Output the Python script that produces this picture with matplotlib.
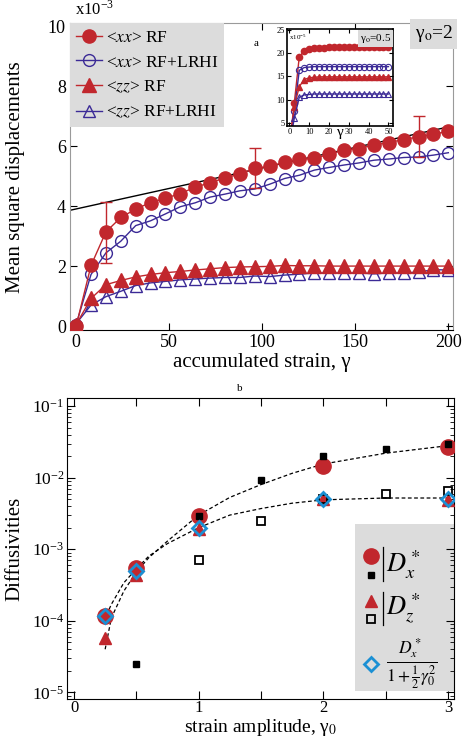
import matplotlib
matplotlib.use("Agg")
import matplotlib.pyplot as plt
from matplotlib.ticker import FixedLocator, FuncFormatter, LogLocator, NullFormatter
from matplotlib.patches import Rectangle
from matplotlib.lines import Line2D

plt.rcParams['font.family'] = ['Liberation Serif', 'DejaVu Serif']
plt.rcParams['mathtext.fontset'] = 'stix'

RED = "#c1272d"
BLUE = "#3b2a96"
CYAN = "#1b90d4"

# ---- panel a: mean square displacements (x1e-3) vs accumulated strain
strain = list(range(0, 201, 8))
xx_rf = [0.0, 2.02, 3.14, 3.62, 3.90, 4.12, 4.26, 4.42, 4.63, 4.78, 4.94, 5.07, 5.26,
         5.33, 5.46, 5.56, 5.59, 5.73, 5.87, 5.92, 6.04, 6.12, 6.22, 6.31, 6.39, 6.50]
xx_lrhi = [0.05, 1.72, 2.44, 2.83, 3.35, 3.51, 3.74, 3.98, 4.11, 4.30, 4.40, 4.51, 4.57,
           4.73, 4.92, 5.03, 5.20, 5.29, 5.37, 5.44, 5.53, 5.57, 5.62, 5.64, 5.70, 5.78]
zz_rf = [0.05, 0.92, 1.38, 1.52, 1.64, 1.72, 1.78, 1.82, 1.87, 1.91, 1.95, 1.97, 1.98,
         1.99, 2.02, 2.01, 2.01, 2.00, 2.00, 2.00, 2.00, 2.00, 2.00, 2.00, 2.00, 2.00]
zz_lrhi = [0.08, 0.70, 0.98, 1.16, 1.35, 1.44, 1.49, 1.54, 1.57, 1.60, 1.62, 1.62, 1.67,
           1.65, 1.70, 1.73, 1.77, 1.77, 1.77, 1.77, 1.74, 1.77, 1.77, 1.80, 1.88, 1.87]
err_x = [16, 96, 184]
err_y = [3.14, 5.26, 6.31]
err_lo = [1.04, 0.66, 0.66]
err_hi = [1.01, 0.69, 0.69]
lin_x = [-3.3, 200]
lin_y = [3.86, 6.64]

# inset (gamma_0 = 0.5)
in_strain = [0, 2.5, 5, 7.5, 10, 12.5, 15, 17.5, 20, 22.5, 25, 27.5, 30, 32.5, 35,
             37.5, 40, 42.5, 45, 47.5, 50]
in_xx_rf = [0, 9.3, 19.2, 20.5, 21.0, 21.1, 21.2, 21.2, 21.3, 21.3, 21.3, 21.3, 21.3,
            21.3, 21.3, 21.3, 21.3, 21.3, 21.3, 21.3, 21.3]
in_xx_lrhi = [0, 7.5, 16.3, 16.9, 17.0, 17.1, 17.1, 17.1, 17.1, 17.1, 17.1, 17.1, 17.1,
              17.1, 17.1, 17.1, 17.1, 17.1, 17.1, 17.1, 17.1]
in_zz_rf = [0, 8.5, 12.8, 14.3, 14.7, 14.8, 14.9, 14.9, 14.9, 14.9, 14.9, 14.9, 14.9,
            14.9, 14.9, 14.9, 14.9, 14.9, 14.9, 14.9, 14.9]
in_zz_lrhi = [0, 6.0, 10.5, 11.0, 11.1, 11.2, 11.2, 11.2, 11.2, 11.2, 11.2, 11.2, 11.2,
              11.2, 11.2, 11.2, 11.2, 11.2, 11.2, 11.2, 11.2]

# ---- panel b: diffusivities vs strain amplitude
g_dx = [0.25, 0.5, 1, 2, 3]
dx_rf = [1.18e-4, 5.5e-4, 2.9e-3, 1.46e-2, 2.7e-2]
g_dz = [0.25, 0.5, 1, 2, 3]
dz_rf = [5.8e-5, 4.4e-4, 1.9e-3, 5.0e-3, 4.9e-3]
g_sq = [0.5, 1, 1.5, 2, 2.5, 3]
dx_sq = [2.5e-5, 2.9e-3, 9.2e-3, 2.0e-2, 2.55e-2, 3.0e-2]
g_osq = [1, 1.5, 2, 2.5, 3]
dz_sq = [7.0e-4, 2.5e-3, 5.0e-3, 6.0e-3, 6.5e-3]
g_dia = [0.25, 0.5, 1, 2, 3]
dx_scaled = [1.15e-4, 5.0e-4, 1.95e-3, 5.0e-3, 5.1e-3]
fit1_g = [0.25, 0.3, 0.4, 0.5, 0.6, 0.75, 1.0, 1.25, 1.5, 1.75, 2.0, 2.5, 3.0]
fit1_d = [4e-5, 1.1e-4, 2.6e-4, 4.8e-4, 7.6e-4, 1.3e-3, 3.0e-3, 5.3e-3, 8.0e-3,
          1.15e-2, 1.55e-2, 2.2e-2, 2.8e-2]
fit2_g = [0.24, 0.3, 0.4, 0.5, 0.6, 0.75, 1.0, 1.25, 1.5, 1.75, 2.0, 2.5, 3.0]
fit2_d = [1.0e-4, 1.7e-4, 3.4e-4, 5.3e-4, 8.0e-4, 1.2e-3, 2.0e-3, 3.0e-3, 3.7e-3,
          4.4e-3, 4.9e-3, 5.2e-3, 5.2e-3]

fig = plt.figure(figsize=(4.71, 7.40), dpi=100)

# ================= top panel =================
ax = fig.add_axes([0.1486, 0.5541, 0.8132, 0.4142])
ax.plot(lin_x, lin_y, color="black", lw=1.0, zorder=1)
ax.plot(strain, xx_rf, "-o", color=RED, ms=9.5, lw=1, label=r"<$xx$> RF", zorder=4)
ax.plot(strain, xx_lrhi, "-o", color=BLUE, mfc="none", ms=8.5, mew=1, lw=1,
        label=r"<$xx$> RF+LRHI", zorder=3)
ax.plot(strain, zz_rf, "-^", color=RED, ms=9.5, lw=1, label=r"<$zz$> RF", zorder=4)
ax.plot(strain, zz_lrhi, "-^", color=BLUE, mfc="none", ms=8.5, mew=1, lw=1,
        label=r"<$zz$> RF+LRHI", zorder=3)
ax.errorbar(err_x, err_y, yerr=[err_lo, err_hi], fmt="none", ecolor=RED, elinewidth=1,
            capsize=4, capthick=1, zorder=5)
ax.set_xlim(-3.3, 202.5)
ax.set_ylim(-0.13, 10.09)
ax.set_xticks([0, 50, 100, 150, 200])
ax.set_yticks([0, 2, 4, 6, 8, 10])
ax.tick_params(direction="in", top=True, right=True, length=5, labelsize=13, pad=3)
for s in ["top", "left", "right"]:
    ax.spines[s].set_color("#9a9a9a")
ax.set_xlabel("accumulated strain, γ", fontsize=15, labelpad=1)
ax.set_ylabel("Mean square displacements", fontsize=15)
ax.yaxis.set_label_coords(-0.117, 0.5)
leg = ax.legend(loc="upper left", borderaxespad=0, fontsize=12.5, handlelength=1.5,
                handletextpad=0.2, labelspacing=0.5, frameon=True, fancybox=False,
                borderpad=0.35)
leg.get_frame().set_facecolor("#dcdcdc")
leg.get_frame().set_edgecolor("none")
leg.get_frame().set_alpha(1)
ax.text(1.0, 1.0, r"γ$_\mathrm{o}$=2", transform=ax.transAxes, ha="right", va="top",
        fontsize=14, bbox=dict(facecolor="#dcdcdc", edgecolor="none", pad=3))
fig.text(75 / 471, 1 - 15 / 740, r"x10$^{\mathdefault{-3}}$", fontsize=12)
fig.text(254 / 471, 1 - 46 / 740, "a", fontsize=8)

# inset
ins = fig.add_axes([0.6093, 0.8297, 0.2251, 0.1311])
ins.plot(in_strain, in_xx_rf, "-o", color=RED, ms=4.5, lw=1)
ins.plot(in_strain, in_xx_lrhi, "-o", color=BLUE, mfc="none", ms=4.5, mew=0.8, lw=1)
ins.plot(in_strain, in_zz_rf, "-^", color=RED, ms=5, lw=1)
ins.plot(in_strain, in_zz_lrhi, "-^", color=BLUE, mfc="none", ms=5, mew=0.8, lw=1)
ins.set_xlim(-1.2, 52.3)
ins.set_ylim(4.3, 25.2)
ins.set_xticks([0, 10, 20, 30, 40, 50])
ins.set_yticks([5, 10, 15, 20, 25])
ins.tick_params(direction="in", top=True, right=True, length=3, labelsize=6, pad=1.5)
for s in ins.spines.values():
    s.set_linewidth(1.2)
ins.set_xlabel("γ", fontsize=11, labelpad=-7)
ins.text(0.02, 0.97, r"x10$^{\mathdefault{-5}}$", transform=ins.transAxes, fontsize=5,
         va="top")
ins.text(0.98, 0.97, r"γ$_\mathrm{o}$=0.5", transform=ins.transAxes, ha="right",
         va="top", fontsize=8, bbox=dict(facecolor="#dcdcdc", edgecolor="none", pad=1.5))

# ================= bottom panel =================
bx = fig.add_axes([0.1423, 0.056, 0.8217, 0.4058])
bx.plot(fit1_g, fit1_d, "--", color="black", lw=0.9, dashes=(3, 2), zorder=2)
bx.plot(fit2_g, fit2_d, "--", color="black", lw=0.9, dashes=(3, 2), zorder=2)
bx.plot(g_dx, dx_rf, "o", color=RED, ms=11, ls="none", zorder=3)
bx.plot(g_dz, dz_rf, "^", color=RED, ms=8, ls="none", zorder=4)
bx.plot(g_sq, dx_sq, "s", color="black", ms=4.5, ls="none", zorder=5)
bx.plot(g_osq, dz_sq, "s", color="black", mfc="none", ms=5.5, mew=1.3, ls="none", zorder=5)
bx.plot(g_dia, dx_scaled, "D", color=CYAN, mfc="none", ms=7.5, mew=2, ls="none", zorder=6)
bx.set_yscale("log")
bx.set_xlim(-0.056, 3.05)
bx.set_ylim(10 ** -5.087, 10 ** -0.89)
bx.xaxis.set_major_locator(FixedLocator([0, 0.5, 1, 1.5, 2, 2.5, 3]))
bx.xaxis.set_major_formatter(FuncFormatter(lambda v, p: "%d" % v if v == int(v) else ""))
bx.yaxis.set_major_locator(LogLocator(base=10, numticks=10))
bx.yaxis.set_minor_locator(LogLocator(base=10, subs=range(2, 10), numticks=10))
bx.yaxis.set_minor_formatter(NullFormatter())
bx.tick_params(which="both", direction="in", top=True, right=True, labelsize=12.5, pad=2)
bx.tick_params(axis="x", which="both", pad=1, labelsize=12)
bx.tick_params(which="major", length=6)
bx.tick_params(which="minor", length=3)
bx.set_xlabel(r"strain amplitude, γ$_0$", fontsize=14, labelpad=0.5)
bx.set_ylabel("Diffusivities", fontsize=15)
bx.yaxis.set_label_coords(-0.11, 0.5)
fig.text(237 / 471, 1 - 391 / 740, "b", fontsize=8)

# legend box for panel b
bx.add_patch(Rectangle((0.744, 0.025), 0.277, 0.555, transform=bx.transAxes,
                       facecolor="#dcdcdc", edgecolor="none", zorder=1))
bx.plot([0.786], [0.475], "o", color=RED, ms=11, transform=bx.transAxes, clip_on=False)
bx.plot([0.786], [0.41], "s", color="black", ms=4.5, transform=bx.transAxes)
bx.add_line(Line2D([0.816, 0.816], [0.39, 0.505], color="black", lw=0.9,
                   transform=bx.transAxes))
bx.text(0.825, 0.445, r"$D_x^*$", transform=bx.transAxes, fontsize=19, va="center")
bx.plot([0.786], [0.325], "^", color=RED, ms=9, transform=bx.transAxes)
bx.plot([0.786], [0.265], "s", color="black", mfc="none", ms=5.5, mew=1.3,
        transform=bx.transAxes)
bx.add_line(Line2D([0.816, 0.816], [0.245, 0.355], color="black", lw=0.9,
                   transform=bx.transAxes))
bx.text(0.825, 0.30, r"$D_z^*$", transform=bx.transAxes, fontsize=19, va="center")
bx.plot([0.786], [0.115], "D", color=CYAN, mfc="none", ms=7.5, mew=2,
        transform=bx.transAxes)
bx.text(0.825, 0.115, r"$\frac{D_x^*}{1+\frac{1}{2}\gamma_0^2}$", transform=bx.transAxes,
        fontsize=18, va="center")

fig.savefig("out.png", dpi=100)
